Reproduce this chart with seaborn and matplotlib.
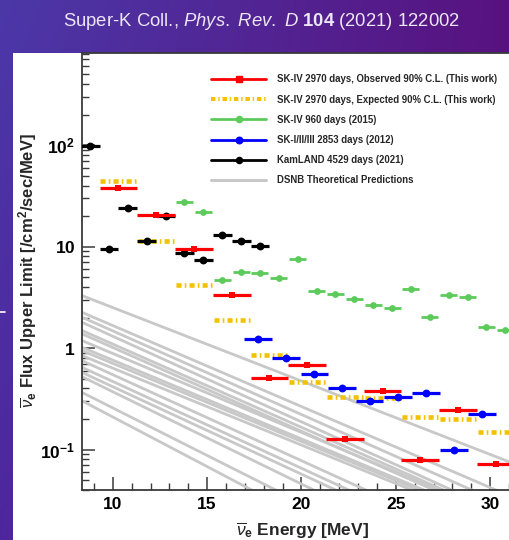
import numpy as np
import matplotlib
matplotlib.use("Agg")
import matplotlib.pyplot as plt
import seaborn as sns
import pandas as pd
from matplotlib.lines import Line2D
from matplotlib.patches import Rectangle
from matplotlib.ticker import LogLocator, NullFormatter, MultipleLocator

# ---------------- data ----------------
red_e = [10.3, 12.3, 14.3, 16.3, 18.3, 20.3, 22.3, 24.3, 26.3, 28.3, 30.3]
red_f = [37.8, 20.5, 9.5, 3.33, 0.51, 0.685, 0.127, 0.377, 0.0787, 0.243, 0.0713]

yel_e = [10.3, 12.3, 14.3, 16.3, 18.3, 20.3, 22.3, 24.3, 26.3, 28.3, 30.3]
yel_f = [44.7, 11.4, 4.18, 1.89, 0.853, 0.466, 0.328, 0.325, 0.21, 0.198, 0.15]

green_e = [13.8, 14.8, 15.8, 16.8, 17.8, 18.8, 19.8, 20.8, 21.8, 22.8,
           23.8, 24.8, 25.8, 26.8, 27.8, 28.8, 29.8, 30.8]
green_f = [27.7, 21.8, 4.65, 5.62, 5.46, 4.94, 7.55, 3.65, 3.43, 3.04,
           2.65, 2.49, 3.84, 2.01, 3.33, 3.18, 1.6, 1.52]

blue_e = [17.69, 19.18, 20.68, 22.15, 23.61, 25.11, 26.6, 28.08, 29.58]
blue_f = [1.235, 0.797, 0.554, 0.40, 0.30, 0.331, 0.362, 0.100, 0.222]

black_e = [8.8, 9.8, 10.8, 11.8, 12.8, 13.8, 14.8, 15.8, 16.8, 17.8]
black_f = [99.0, 9.5, 23.9, 11.4, 20.0, 8.6, 7.4, 12.9, 11.4, 10.2]

# DSNB theoretical predictions: value at the two ends of the energy range
dsnb_e = [8.3, 31.0]
dsnb_start = [3.33, 2.28, 2.04, 1.82, 1.51, 1.40, 1.20, 1.03, 0.955, 0.853,
              0.762, 0.655, 0.583, 0.53, 0.371, 0.307]
dsnb_end = [0.0757, 0.0351, 0.0274, 0.0221, 0.0207, 0.0187, 0.0205, 0.0178,
            0.0171, 0.0162, 0.00906, 0.00748, 0.00644, 0.00456, 0.00277, 0.00185]

legend_labels = [
    "SK-IV 2970 days, Observed 90% C.L. (This work)",
    "SK-IV 2970 days, Expected 90% C.L. (This work)",
    "SK-IV 960 days (2015)",
    "SK-I/II/III 2853 days (2012)",
    "KamLAND 4529 days (2021)",
    "DSNB Theoretical Predictions",
]
x_ticks = [10, 15, 20, 25, 30]
y_ticks = [0.1, 1, 10, 100]
y_ticklabels = [r"$\mathbf{10^{-1}}$", r"$\mathbf{1}$", r"$\mathbf{10}$", r"$\mathbf{10^{2}}$"]

# ---------------- style ----------------
sns.set_theme(style="ticks")
plt.rcParams["font.family"] = ["Liberation Sans", "DejaVu Sans"]
plt.rcParams["mathtext.fontset"] = "custom"
plt.rcParams["mathtext.rm"] = "Liberation Sans"
plt.rcParams["mathtext.it"] = "Liberation Sans:italic"
plt.rcParams["mathtext.bf"] = "Liberation Sans:bold"

W, H = 510, 540
fig = plt.figure(figsize=(W / 100, H / 100), dpi=100)

# purple gradient background
bg = fig.add_axes([0, 0, 1, 1], zorder=-10)
tl = np.array([76, 56, 168]) / 255
tr = np.array([88, 18, 128]) / 255
bl = np.array([78, 38, 158]) / 255
br = np.array([90, 18, 124]) / 255
gx = np.linspace(0, 1, 200)[None, :, None]
gy = np.linspace(0, 1, 200)[:, None, None]
grad = (1 - gy) * ((1 - gx) * tl + gx * tr) + gy * ((1 - gx) * bl + gx * br)
bg.imshow(grad, extent=[0, 1, 0, 1], aspect="auto", origin="upper")
bg.axis("off")

# white panel
fig.patches.append(Rectangle((13 / W, 0), (W - 13) / W, (H - 53) / H,
                             transform=fig.transFigure, facecolor="white",
                             edgecolor="none", zorder=-5))
fig.add_artist(Line2D([0, 5 / W], [1 - 312 / H, 1 - 312 / H], color="white",
                      lw=1.2, transform=fig.transFigure))

ax_l, ax_t, ax_r, ax_b = 82, 53, 510, 490
ax = fig.add_axes([ax_l / W, 1 - ax_b / H, (ax_r - ax_l) / W, (ax_b - ax_t) / H])
ax.set_facecolor("white")
ax.set_yscale("log")
ax.set_xlim(8.37, 31.05)
ax.set_ylim(0.0399, 810)

# DSNB lines
rows = []
for i, (s, e) in enumerate(zip(dsnb_start, dsnb_end)):
    rows.append({"model": i, "E": dsnb_e[0], "F": s})
    rows.append({"model": i, "E": dsnb_e[1], "F": e})
dsnb_df = pd.DataFrame(rows)
sns.lineplot(data=dsnb_df, x="E", y="F", units="model", estimator=None,
             color="#c8c8c8", lw=2.0, ax=ax, zorder=1, legend=False)

gold = "#f2c200"
green = "#5ccb5c"

# yellow expected limits (dash-dot style bins)
ax.hlines(yel_f, np.array(yel_e) - 0.95, np.array(yel_e) + 0.95, colors=gold,
          linestyles=[(0, (1.1, 0.7, 0.35, 0.7))], lw=3.3, zorder=3)

def bins(e, f, hw, color, lw, marker, ms, z):
    e = np.asarray(e)
    ax.hlines(f, e - hw, e + hw, colors=color, lw=lw, zorder=z)
    df = pd.DataFrame({"E": e, "F": f})
    sns.scatterplot(data=df, x="E", y="F", color=color, marker=marker, s=ms,
                    edgecolor=color, linewidth=0, ax=ax, zorder=z + 0.5, legend=False)

bins(green_e, green_f, 0.45, green, 2.0, "o", 24, 4)
bins(blue_e, blue_f, 0.73, "#0000ff", 2.3, "o", 32, 5)
bins(black_e, black_f, 0.5, "black", 2.3, "o", 32, 6)
bins(red_e, red_f, 1.0, "#ff0000", 2.3, "s", 24, 7)

ax.set_xlabel("")
ax.set_ylabel("")

# axes cosmetics (ROOT-like)
spc = "#3a3a3a"
for side in ["left", "bottom", "top"]:
    ax.spines[side].set_color(spc)
    ax.spines[side].set_linewidth(1.3)
ax.spines["right"].set_visible(False)
ax.set_xticks(x_ticks)
ax.set_xticklabels([str(t) for t in x_ticks], fontsize=12.5, fontweight="bold")
ax.xaxis.set_minor_locator(MultipleLocator(1))
ax.set_yticks(y_ticks)
ax.set_yticklabels(y_ticklabels, fontsize=12.5)
ax.yaxis.set_minor_locator(LogLocator(base=10, subs=np.arange(2, 10)))
ax.yaxis.set_minor_formatter(NullFormatter())
ax.tick_params(axis="both", which="major", direction="in", length=9.5, width=1.1,
               color=spc, labelcolor="black", pad=5)
ax.tick_params(axis="both", which="minor", direction="in", length=5, width=1.0,
               color=spc)
ax.tick_params(top=False, right=False, which="both")

# axis titles
fig.text(303 / W, 1 - 531 / H, r"$\overline{\nu}_{\mathbf{e}}$ Energy [MeV]",
         ha="center", va="center", fontsize=12.5, fontweight="bold")
fig.text(28 / W, 1 - 271 / H,
         r"$\overline{\nu}_{\mathbf{e}}$ Flux Upper Limit [/cm$^{\mathbf{2}}$/sec/MeV]",
         ha="center", va="center", rotation=90, fontsize=12, fontweight="bold")

# header
fig.text(261 / W, 1 - 22 / H,
         r"Super-K Coll., $\mathit{Phys.\ Rev.\ D}$ $\mathbf{104}$ (2021) 122002",
         ha="center", va="center", fontsize=13.3, color="#ece6f6")

# legend
handles = [
    Line2D([], [], color="#ff0000", lw=2.0, marker="s", ms=4.2, mec="#ff0000"),
    Line2D([], [], color=gold, lw=2.9, ls=(0, (1.1, 0.7, 0.35, 0.7))),
    Line2D([], [], color=green, lw=2.0, marker="o", ms=4.4, mec=green),
    Line2D([], [], color="#0000ff", lw=2.0, marker="o", ms=4.7, mec="#0000ff"),
    Line2D([], [], color="black", lw=2.0, marker="o", ms=4.4, mec="black"),
    Line2D([], [], color="#c8c8c8", lw=2.2),
]
leg = ax.legend(handles, legend_labels, loc="upper left",
                bbox_to_anchor=(211 / W, 1 - 74.5 / H), bbox_transform=fig.transFigure,
                frameon=False, handlelength=5.7, handletextpad=1.12,
                labelspacing=1.05, borderpad=0, borderaxespad=0,
                prop={"weight": "bold", "size": 6.95})

fig.savefig("out.png", dpi=100)
